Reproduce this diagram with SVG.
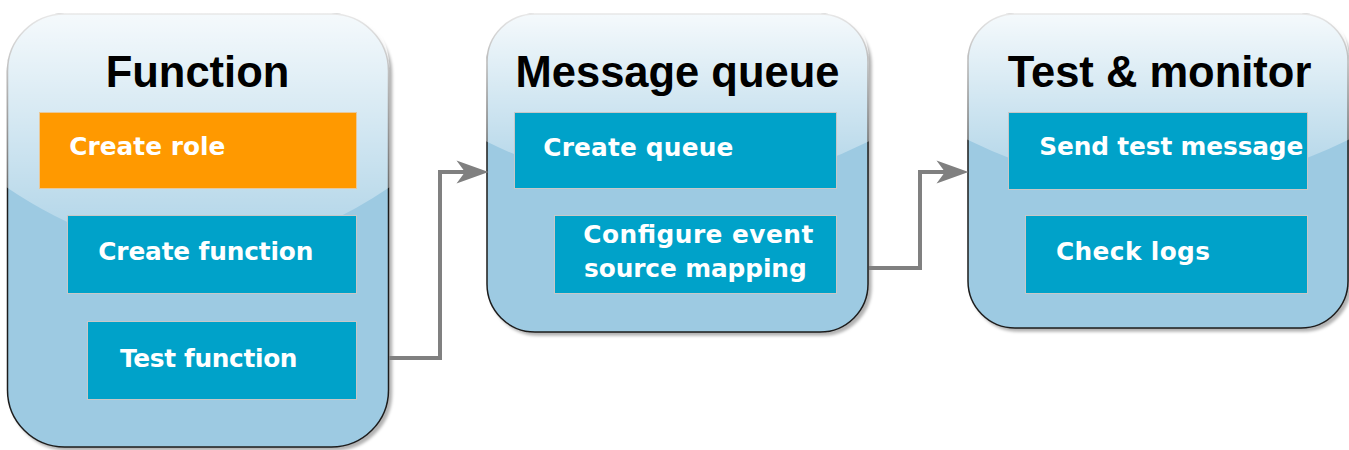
<svg xmlns="http://www.w3.org/2000/svg" width="1349" height="450" viewBox="0 0 1349 450">
  <defs>
    <style>
      .cont { fill: #9dcae2; stroke: #1e1e1e; stroke-width: 1.5; }
      .glass { fill: url(#glassGrad); stroke: none; }
      .title { font-family: "Liberation Sans", Arial, sans-serif; font-weight: bold; font-size: 43.5px; fill: #000; text-anchor: middle; }
      .box { fill: #00a2c9; stroke: #c8c8c8; stroke-width: 1; }
      .box-o { fill: #ff9900; stroke: #e8c89a; stroke-width: 1; }
      .lbl { font-family: "DejaVu Sans", Verdana, sans-serif; font-weight: bold; font-size: 24.8px; fill: #ffffff; }
      .conn { fill: none; stroke: #808080; stroke-width: 4; stroke-linejoin: miter; }
      .head { fill: #808080; stroke: none; }
    </style>
    <linearGradient id="glassGrad" x1="0" y1="0" x2="0" y2="1.0909">
      <stop offset="0" stop-color="#ffffff" stop-opacity="0.9"/>
      <stop offset="1" stop-color="#ffffff" stop-opacity="0.1"/>
    </linearGradient>
    <filter id="shadow" x="-5%" y="-5%" width="115%" height="115%">
      <feGaussianBlur in="SourceAlpha" stdDeviation="1.5"/>
      <feOffset dx="3" dy="3" result="off"/>
      <feFlood flood-color="#000000" flood-opacity="0.3"/>
      <feComposite in2="off" operator="in"/>
      <feMerge>
        <feMergeNode/>
        <feMergeNode in="SourceGraphic"/>
      </feMerge>
    </filter>
  </defs>

  <!-- Container: Function -->
  <g id="function">
    <rect class="cont" x="7.5" y="14" width="381" height="433" rx="57" ry="57" filter="url(#shadow)"/>
    <path class="glass" d="M64.5,13 Q6.5,13 6.5,71 L6.5,187.2 Q198,317.1 389.5,187.2 L389.5,71 Q389.5,13 331.5,13 Z"/>
    <text class="title" x="197.5" y="87">Function</text>
  </g>

  <!-- Container: Message queue -->
  <g id="message-queue">
    <rect class="cont" x="487" y="14" width="381" height="318" rx="48" ry="48" filter="url(#shadow)"/>
    <path class="glass" d="M535,13 Q486,13 486,62 L486,141.2 Q677.5,236.6 869,141.2 L869,62 Q869,13 820,13 Z"/>
    <text class="title" x="677.5" y="87">Message queue</text>
  </g>

  <!-- Container: Test & monitor -->
  <g id="test-monitor">
    <rect class="cont" x="968" y="14" width="380" height="314" rx="47" ry="47" filter="url(#shadow)"/>
    <path class="glass" d="M1015,13 Q967,13 967,61 L967,139.6 Q1158,233.8 1349,139.6 L1349,61 Q1349,13 1301,13 Z"/>
    <text class="title" x="1159.5" y="87">Test &amp; monitor</text>
  </g>

  <!-- Connectors -->
  <g id="connectors">
    <path class="conn" d="M389,358 L440,358 L440,172 L466,172"/>
    <path class="head" d="M488.5,172 L456.5,160.5 L465,172 L456.5,183.5 Z"/>
    <path class="conn" d="M869,268 L920,268 L920,172 L946,172"/>
    <path class="head" d="M968.5,172 L936.5,160.5 L945,172 L936.5,183.5 Z"/>
  </g>

  <!-- Steps -->
  <g id="create-role">
    <rect class="box-o" x="39.5" y="112.5" width="317" height="76"/>
    <text class="lbl" x="69.3" y="155" textLength="156">Create role</text>
  </g>
  <g id="create-function">
    <rect class="box" x="67.5" y="215.5" width="289" height="78"/>
    <text class="lbl" x="98.3" y="260" textLength="215">Create function</text>
  </g>
  <g id="test-function">
    <rect class="box" x="87.5" y="321.5" width="269" height="78"/>
    <text class="lbl" x="120" y="367" textLength="177.5">Test function</text>
  </g>
  <g id="create-queue">
    <rect class="box" x="514.5" y="112.5" width="322" height="76"/>
    <text class="lbl" x="543.3" y="156" textLength="190">Create queue</text>
  </g>
  <g id="configure-esm">
    <rect class="box" x="554.5" y="215.5" width="282" height="78"/>
    <text class="lbl" x="583.3" y="243.3" textLength="230">Configure event</text>
    <text class="lbl" x="584" y="277.3" textLength="222.7">source mapping</text>
  </g>
  <g id="send-test-message">
    <rect class="box" x="1008.5" y="112.5" width="299" height="77"/>
    <text class="lbl" x="1039.3" y="155" textLength="264">Send test message</text>
  </g>
  <g id="check-logs">
    <rect class="box" x="1025.5" y="215.5" width="282" height="78"/>
    <text class="lbl" x="1056" y="260" textLength="154">Check logs</text>
  </g>
</svg>
